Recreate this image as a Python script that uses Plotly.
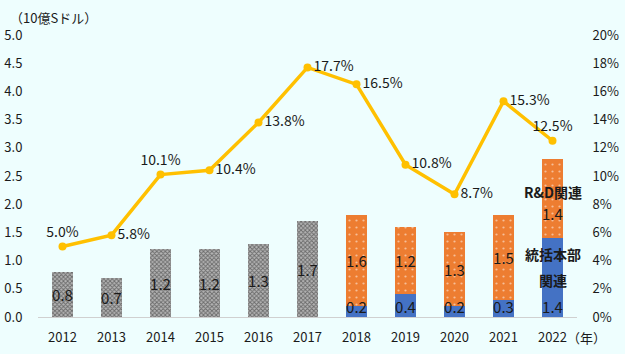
import plotly.graph_objects as go
from plotly.subplots import make_subplots

years = ["2012", "2013", "2014", "2015", "2016", "2017", "2018", "2019", "2020", "2021", "2022"]
total_early = [0.8, 0.7, 1.2, 1.2, 1.3, 1.7, None, None, None, None, None]
hq_related = [None, None, None, None, None, None, 0.2, 0.4, 0.2, 0.3, 1.4]
rd_related = [None, None, None, None, None, None, 1.6, 1.2, 1.3, 1.5, 1.4]
share_pct = [5.0, 5.8, 10.1, 10.4, 13.8, 17.7, 16.5, 10.8, 8.7, 15.3, 12.5]
line_text_pos = ["top center", "middle right", "top center", "middle right", "middle right",
                 "middle right", "middle right", "middle right", "middle right", "middle right",
                 "top center"]

FONT = "Noto Sans CJK JP"
TXT = "#1a1a1a"
xi = list(range(len(years)))

fig = make_subplots(specs=[[{"secondary_y": True}]])

def fmt(v):
    return "" if v is None else f"{v:.1f}"

fig.add_trace(go.Bar(
    x=xi, y=total_early, width=0.42,
    marker=dict(color="#a0a0a0", line=dict(width=0),
                pattern=dict(shape="x", fgcolor="#202020", bgcolor="#b4b4b4", size=3, solidity=0.5)),
    text=[fmt(v) for v in total_early], textposition="inside", insidetextanchor="middle",
    textangle=0, textfont=dict(color=TXT, size=15, family=FONT), showlegend=False,
), secondary_y=False)

fig.add_trace(go.Bar(
    x=xi, y=hq_related, width=0.42,
    marker=dict(color="#4472C4", line=dict(width=0)),
    showlegend=False,
), secondary_y=False)

# last R&D label is placed lower in the segment (as in the reference), drawn as annotation
rd_pos = ["inside"] * (len(years) - 1) + ["none"]
fig.add_trace(go.Bar(
    x=xi, y=rd_related, width=0.42,
    marker=dict(color="#ED7D31", line=dict(width=0),
                pattern=dict(shape=".", fgcolor="white", bgcolor="#ED7D31", size=7, solidity=0.08)),
    text=[fmt(v) for v in rd_related], textposition=rd_pos, insidetextanchor="middle",
    textangle=0, textfont=dict(color=TXT, size=15, family=FONT), showlegend=False,
), secondary_y=False)

# labels of the HQ-related segments, sitting at the bar base, drawn above the bars
fig.add_trace(go.Scatter(
    x=[x for x, v in zip(xi, hq_related) if v is not None],
    y=[0 for v in hq_related if v is not None],
    text=[fmt(v) for v in hq_related if v is not None],
    mode="text", textposition="top center",
    textfont=dict(color=TXT, size=15, family=FONT), showlegend=False, cliponaxis=False,
    hoverinfo="skip",
), secondary_y=False)

fig.add_trace(go.Scatter(
    x=xi, y=share_pct, mode="lines+markers+text",
    line=dict(color="#FFC000", width=3.5), marker=dict(color="#FFC000", size=8),
    text=[f"{v:.1f}%" for v in share_pct], textposition=line_text_pos,
    textfont=dict(color=TXT, size=14, family=FONT), showlegend=False, cliponaxis=False,
), secondary_y=True)

fig.update_layout(
    width=625, height=354,
    margin=dict(l=38, r=48, t=35, b=37),
    paper_bgcolor="#EEFEFE", plot_bgcolor="#EEFEFE",
    barmode="stack",
    uniformtext=dict(minsize=15, mode="show"),
    font=dict(family=FONT, size=13, color=TXT),
    showlegend=False,
)
fig.update_xaxes(domain=[0, 1], range=[-0.5, len(years) - 0.5], tickvals=xi, ticktext=years,
                 automargin=False,
                 showgrid=False, zeroline=False, showline=True, linecolor="#d0d0d0", linewidth=1,
                 ticks="outside", ticklen=8, tickcolor="rgba(0,0,0,0)",
                 tickfont=dict(size=13, color=TXT))
fig.update_yaxes(range=[0, 5], dtick=0.5, tickformat=".1f", showgrid=False, zeroline=False,
                 ticks="outside", ticklen=12, tickcolor="rgba(0,0,0,0)", automargin=False,
                 tickfont=dict(size=13, color=TXT), secondary_y=False)
fig.update_yaxes(range=[0, 20], dtick=2, ticksuffix="%", showgrid=False, zeroline=False,
                 ticks="outside", ticklen=12, tickcolor="rgba(0,0,0,0)", automargin=False,
                 tickfont=dict(size=13, color=TXT), secondary_y=True)

fig.add_annotation(text="（10億Sドル）", xref="paper", yref="paper", x=-0.055, y=1.062,
                   xanchor="left", yanchor="middle", showarrow=False,
                   font=dict(size=13, color=TXT, family=FONT))
fig.add_annotation(text="（年）", xref="paper", yref="paper", x=0.978, y=-0.074,
                   xanchor="left", yanchor="middle", showarrow=False,
                   font=dict(size=13, color=TXT, family=FONT))
fig.add_annotation(text=fmt(rd_related[-1]), x=xi[-1], y=hq_related[-1] + rd_related[-1] * 0.31,
                   xref="x", yref="y", showarrow=False,
                   font=dict(size=15, color=TXT, family=FONT))
for label, yy in [("<b>R&D関連</b>", 2.22), ("<b>統括本部</b>", 1.12), ("<b>関連</b>", 0.66)]:
    fig.add_annotation(text=label, x=xi[-1], y=yy, xref="x", yref="y", showarrow=False,
                       font=dict(size=14, color=TXT, family=FONT))

fig.write_html("out.html")
